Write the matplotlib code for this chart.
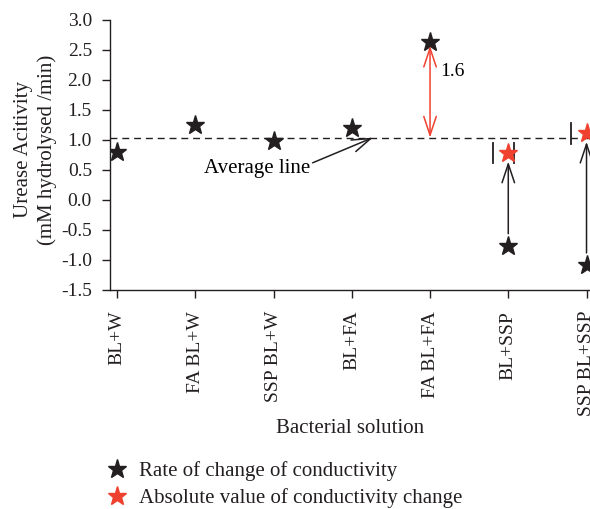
import matplotlib
matplotlib.use('Agg')
import matplotlib.pyplot as plt
from matplotlib.lines import Line2D

plt.rcParams['font.family'] = ['Liberation Serif', 'DejaVu Serif']
plt.rcParams['font.size'] = 15

# %% data

categories = ['BL+W', 'FA BL+W', 'SSP BL+W', 'BL+FA', 'FA BL+FA', 'BL+SSP', 'SSP BL+SSP']
rate = [0.80, 1.25, 0.99, 1.20, 2.64, -0.77, -1.09]
abs_idx = [5, 6]
abs_vals = [0.78, 1.11]
average = 1.04
diff_label = '1.6'
yticks = [3.0, 2.5, 2.0, 1.5, 1.0, 0.5, 0.0, -0.5, -1.0, -1.5]

black = '#231f20'
red = '#ef4130'

fig = plt.figure(figsize=(5.9, 5.09), dpi=100)
ax = fig.add_axes([110 / 590, 219 / 509, 500 / 590, 270 / 509])

x = list(range(len(categories)))

# average line
ax.axhline(average, color=black, lw=1.0, ls=(0, (5, 3.5)), zorder=1)

# stars
ax.plot(x, rate, ls='none', marker='*', ms=14, color=black, zorder=3)
ax.plot(abs_idx, abs_vals, ls='none', marker='*', ms=14, color=red, zorder=3)

# |value| bars around the absolute values
for i, v in zip(abs_idx, abs_vals):
    for dx in (-0.2, 0.07):
        ax.plot([i + dx, i + dx], [v - 0.17, v + 0.17], color=black, lw=1.3,
                zorder=2)

# arrows from the negative rate up to its absolute value
for i, v in zip(abs_idx, abs_vals):
    ax.annotate('', xy=(i, v), xytext=(i, rate[i]),
                arrowprops=dict(arrowstyle='->,head_length=0.9,head_width=0.3',
                                color=black, lw=1.1, shrinkA=9, shrinkB=6))

# difference between the peak and the average
ax.annotate('', xy=(4, rate[4]), xytext=(4, average),
            arrowprops=dict(arrowstyle='<->,head_length=0.9,head_width=0.3',
                            color=red, lw=1.1, shrinkA=0, shrinkB=3))
ax.text(4.125, 2.14, diff_label, ha='left', va='center', fontsize=14)

# average line label
ax.annotate('', xy=(3.27, average), xytext=(2.5, 0.62),
            arrowprops=dict(arrowstyle='->,head_length=0.9,head_width=0.3',
                            color=black, lw=1.1, shrinkA=0, shrinkB=0))
ax.text(2.47, 0.53, 'Average line', ha='right', va='center')

# axes
ax.set_xlim(-0.09, 6.3)
ax.set_ylim(-1.5, 3.0)
ax.set_xticks(x)
ax.set_xticklabels(categories, rotation=90, fontsize=14)
ax.set_yticks(yticks)
ax.set_yticklabels(['%.1f' % t for t in yticks], fontsize=14)
ax.spines['top'].set_visible(False)
ax.spines['right'].set_visible(False)
for s in ('left', 'bottom'):
    ax.spines[s].set_linewidth(1.0)
    ax.spines[s].set_color(black)
ax.tick_params(direction='out', length=6, width=1.0, colors=black,
               labelcolor=black)
ax.tick_params(axis='x', pad=9)
ax.tick_params(axis='y', pad=7)

ax.set_ylabel('Urease Acitivity\n(mM hydrolysed /min)', color=black,
              linespacing=1.3)
ax.yaxis.set_label_coords((57 - 110) / 500, 0.52)
ax.set_xlabel('Bacterial solution', color=black)
ax.xaxis.set_label_coords((350 - 110) / 500, -0.478)

# legend
handles = [
    Line2D([], [], ls='none', marker='*', ms=14, color=black),
    Line2D([], [], ls='none', marker='*', ms=14, color=red),
]
labels = ['Rate of change of conductivity', 'Absolute value of conductivity change']
fig.legend(handles, labels, loc='upper left', bbox_to_anchor=(104 / 590, 1 - 461 / 509),
           frameon=False, handlelength=1.2, handletextpad=0.5, labelspacing=0.35,
           borderaxespad=0, borderpad=0, labelcolor=black)

fig.savefig('out.png', dpi=100)
